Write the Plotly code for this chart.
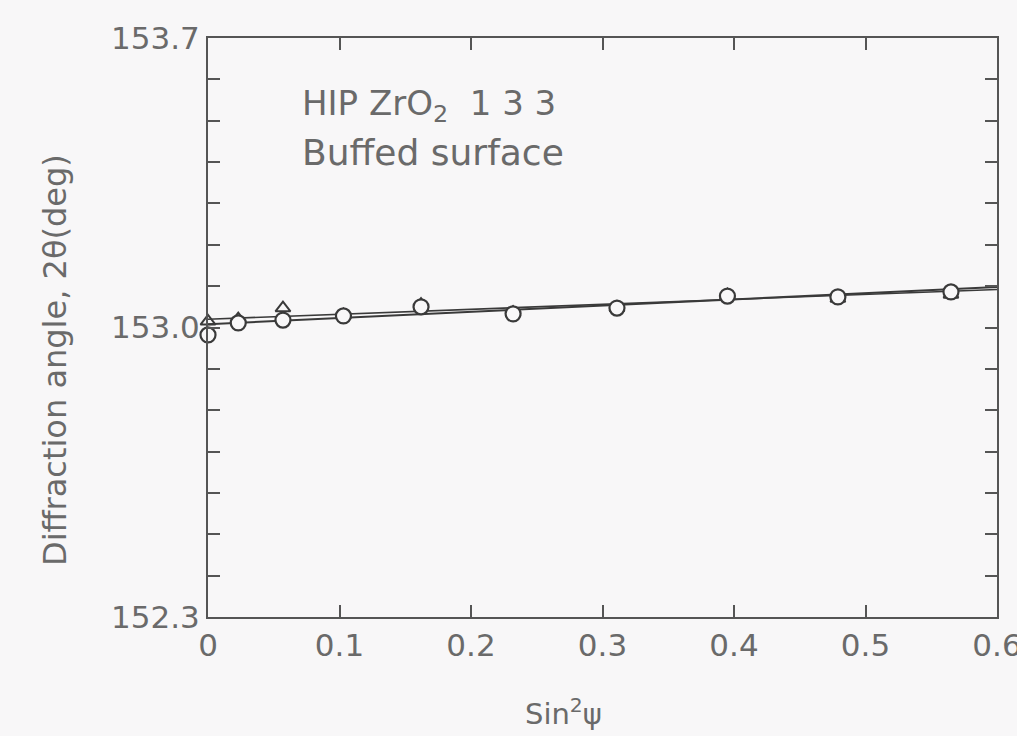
import plotly.graph_objects as go

# Data
sin2psi = [0.0, 0.023, 0.057, 0.103, 0.162, 0.232, 0.311, 0.395, 0.479, 0.565]
two_theta_circle = [152.982, 153.011, 153.018, 153.028, 153.050, 153.033, 153.047, 153.076, 153.074, 153.086]
two_theta_triangle = [153.015, 153.020, 153.047, 153.030, 153.055, 153.036, 153.048, 153.078, 153.070, 153.080]
fit_x = [0.0, 0.6]
fit_circle = [153.008, 153.098]
fit_triangle = [153.020, 153.092]

x_ticks = [0, 0.1, 0.2, 0.3, 0.4, 0.5, 0.6]
x_ticktext = ["0", "0.1", "0.2", "0.3", "0.4", "0.5", "0.6"]
y_ticks = [152.3, 153.0, 153.7]
y_ticktext = ["152.3", "153.0", "153.7"]

ink = "#3a3a3a"
txt = "#6a6a6a"
axc = "#555555"
bg = "#f8f7f8"
FONT = "DejaVu Sans"

fig = go.Figure()
fig.add_trace(go.Scatter(x=fit_x, y=fit_circle, mode="lines",
                         line=dict(color=ink, width=2), showlegend=False))
fig.add_trace(go.Scatter(x=fit_x, y=fit_triangle, mode="lines",
                         line=dict(color=ink, width=1.6), showlegend=False))
fig.add_trace(go.Scatter(x=sin2psi, y=two_theta_triangle, mode="markers",
                         marker=dict(symbol="triangle-up-open", size=13,
                                     color=ink, line=dict(width=2, color=ink)),
                         showlegend=False, cliponaxis=False))
fig.add_trace(go.Scatter(x=sin2psi, y=two_theta_circle, mode="markers",
                         marker=dict(symbol="circle", size=15, color=bg,
                                     line=dict(width=2.2, color=ink)),
                         showlegend=False, cliponaxis=False))

axis_common = dict(showgrid=False, zeroline=False, showline=True,
                   linecolor=axc, linewidth=2, mirror="allticks",
                   ticks="inside", ticklen=12, tickwidth=2, tickcolor=axc,
                   tickfont=dict(family=FONT, size=31, color=txt),
                   ticklabeloverflow="allow", automargin=False)

fig.update_layout(
    template="none",
    width=1017, height=736,
    margin=dict(l=208, r=20, t=38, b=119),
    paper_bgcolor=bg, plot_bgcolor=bg,
    xaxis=dict(range=[0, 0.6], tickvals=x_ticks, ticktext=x_ticktext, **axis_common),
    yaxis=dict(range=[152.3, 153.7], tickvals=y_ticks, ticktext=y_ticktext,
               minor=dict(dtick=0.1, tick0=152.3, ticks="inside", ticklen=12,
                          tickwidth=2, tickcolor=axc, showgrid=False),
               **axis_common),
)

pw = 1017 - 208 - 20
ph = 736 - 38 - 119


def px_ann(text, x, y, size, **kw):
    return dict(text=text, x=(x - 208) / pw, y=((736 - y) - 119) / ph,
                xref="paper", yref="paper", showarrow=False,
                font=dict(family=FONT, size=size, color=txt), **kw)


fig.update_layout(annotations=[
    px_ann("HIP ZrO<sub>2</sub>  1 3 3", 300, 105, 34, xanchor="left", yanchor="middle"),
    px_ann("Buffed surface", 300, 152, 36, xanchor="left", yanchor="middle"),
    px_ann("Diffraction angle, 2θ(deg)", 55, 360, 32, xanchor="center",
           yanchor="middle", textangle=-90),
    px_ann("Sin<sup>2</sup>ψ", 563, 712, 29, xanchor="center", yanchor="middle"),
])

fig.write_html("out.html")
